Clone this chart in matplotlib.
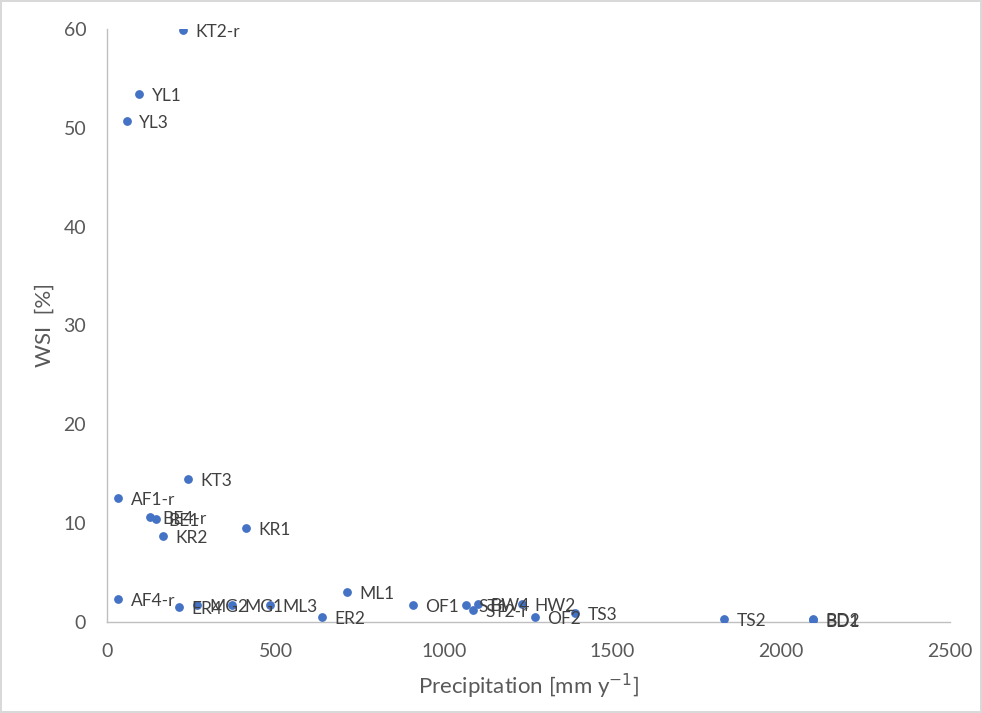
import matplotlib
matplotlib.use("Agg")
import matplotlib.pyplot as plt

plt.rcParams['font.family'] = ['Lato', 'DejaVu Sans']

# site labels, precipitation [mm/y] and WSI [%]
sites = ["KT2-r", "YL1", "YL3", "KT3", "AF1-r", "BE4-r", "BE1", "KR2", "KR1",
         "AF4-r", "ER4", "MG2", "MG1", "ML3", "ML1", "ER2", "OF1", "ST1",
         "ST2-r", "BW4", "HW2", "OF2", "TS3", "TS2", "BD2", "BD1"]
precip = [225, 95, 59, 240, 33, 128, 145, 166, 412,
          33, 214, 267, 371, 483, 712, 638, 908, 1065,
          1085, 1100, 1231, 1270, 1388, 1830, 2094, 2094]
wsi = [59.9, 53.4, 50.7, 14.5, 12.5, 10.6, 10.4, 8.7, 9.5,
       2.3, 1.5, 1.7, 1.7, 1.7, 3.0, 0.5, 1.7, 1.7,
       1.2, 1.8, 1.8, 0.5, 0.9, 0.3, 0.25, 0.2]

fig = plt.figure(figsize=(9.82, 7.13), dpi=100)
fig.patch.set_edgecolor('#d9d9d9')
fig.patch.set_linewidth(1.5)
ax = fig.add_axes([0.109, 0.128, 0.858, 0.831])

ax.scatter(precip, wsi, s=28, color='#4472C4', zorder=3)
for name, x, y in zip(sites, precip, wsi):
    ax.annotate(name, (x, y), xytext=(9, -1.5), textcoords='offset points',
                va='center', ha='left', fontsize=12.5, color='#404040')

ax.set_xlim(0, 2500)
ax.set_ylim(0, 60)
ax.set_xticks([0, 500, 1000, 1500, 2000, 2500])
ax.set_yticks([0, 10, 20, 30, 40, 50, 60])
ax.tick_params(length=0, labelsize=14, labelcolor='#595959')
ax.tick_params(axis='y', pad=15)
ax.tick_params(axis='x', pad=15)
for s in ['top', 'right']:
    ax.spines[s].set_visible(False)
for s in ['left', 'bottom']:
    ax.spines[s].set_color('#bfbfbf')
    ax.spines[s].set_linewidth(1)

ax.set_xlabel("Precipitation [mm y$^{-1}$]", fontsize=16, color='#595959', labelpad=9)
ax.set_ylabel("WSI  [%]", fontsize=16, color='#595959', labelpad=6)

fig.savefig("out.png", dpi=100)
